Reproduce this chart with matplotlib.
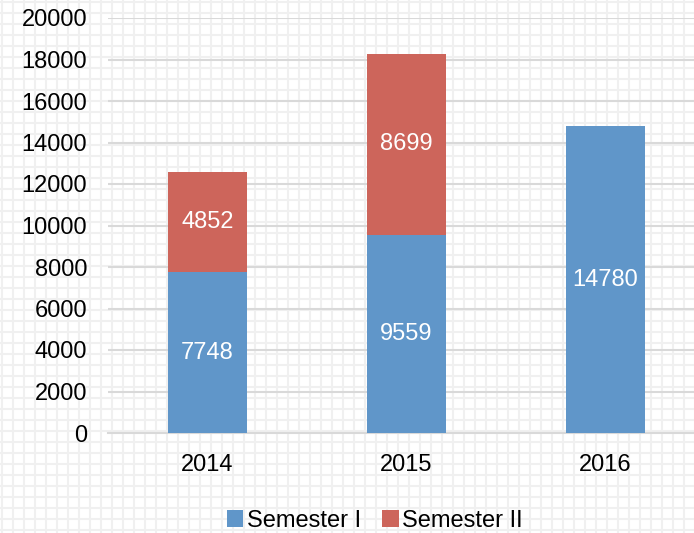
import matplotlib
matplotlib.use('Agg')
from matplotlib import pyplot as plt
import numpy as np

plt.rcParams['font.family'] = ['Liberation Sans', 'DejaVu Sans']

# data
years = ['2014', '2015', '2016']
sem1 = [7748, 9559, 14780]
sem2 = [4852, 8699, 0]
yticks = list(range(0, 20001, 2000))

blue = '#6096c9'
red = '#cd655b'

fig = plt.figure(figsize=(6.94, 5.33), dpi=100)

# checkered paper background
bg = fig.add_axes([0, 0, 1, 1], zorder=-10)
bg.set_xlim(0, 694)
bg.set_ylim(533, 0)
bg.axis('off')
for p in np.arange(2, 700, 11):
    bg.axvline(p, color='#f0f0f0', lw=1.5)
    bg.axhline(p, color='#f0f0f0', lw=1.5)

ax = fig.add_axes([108 / 694, 100 / 533, 586 / 694, 415 / 533])
ax.patch.set_alpha(0)

x = np.arange(len(years))
w = 0.4
ax.bar(x, sem1, w, color=blue, label='Semester I', zorder=3)
s2 = [v if v > 0 else np.nan for v in sem2]
ax.bar(x, s2, w, bottom=sem1, color=red, label='Semester II', zorder=3)

for i in range(len(years)):
    ax.text(x[i], sem1[i] / 2, str(sem1[i]), color='white', ha='center',
            va='center', fontsize=17, zorder=4)
    if sem2[i] > 0:
        ax.text(x[i], sem1[i] + sem2[i] / 2, str(sem2[i]), color='white',
                ha='center', va='center', fontsize=17, zorder=4)

ax.set_xlim(-0.5, 2.445)
ax.set_ylim(0, 20000)
ax.set_yticks(yticks)
ax.set_xticks(x)
ax.set_xticklabels(years)
ax.yaxis.grid(True, color='#d9d9d9', lw=1.5, zorder=0)
ax.tick_params(axis='both', length=0, labelsize=17, colors='black')
ax.tick_params(axis='y', pad=15)
ax.tick_params(axis='x', pad=15)
for s in ['top', 'right', 'left']:
    ax.spines[s].set_visible(False)
ax.spines['bottom'].set_color('#d9d9d9')
ax.spines['bottom'].set_linewidth(1.5)

leg = fig.legend(loc='center', bbox_to_anchor=(0.54, 12 / 533), ncol=2,
                 frameon=False, fontsize=17, handlelength=0.7,
                 handleheight=0.7, handletextpad=0.15, columnspacing=0.9)

fig.savefig('out.png', dpi=100)
